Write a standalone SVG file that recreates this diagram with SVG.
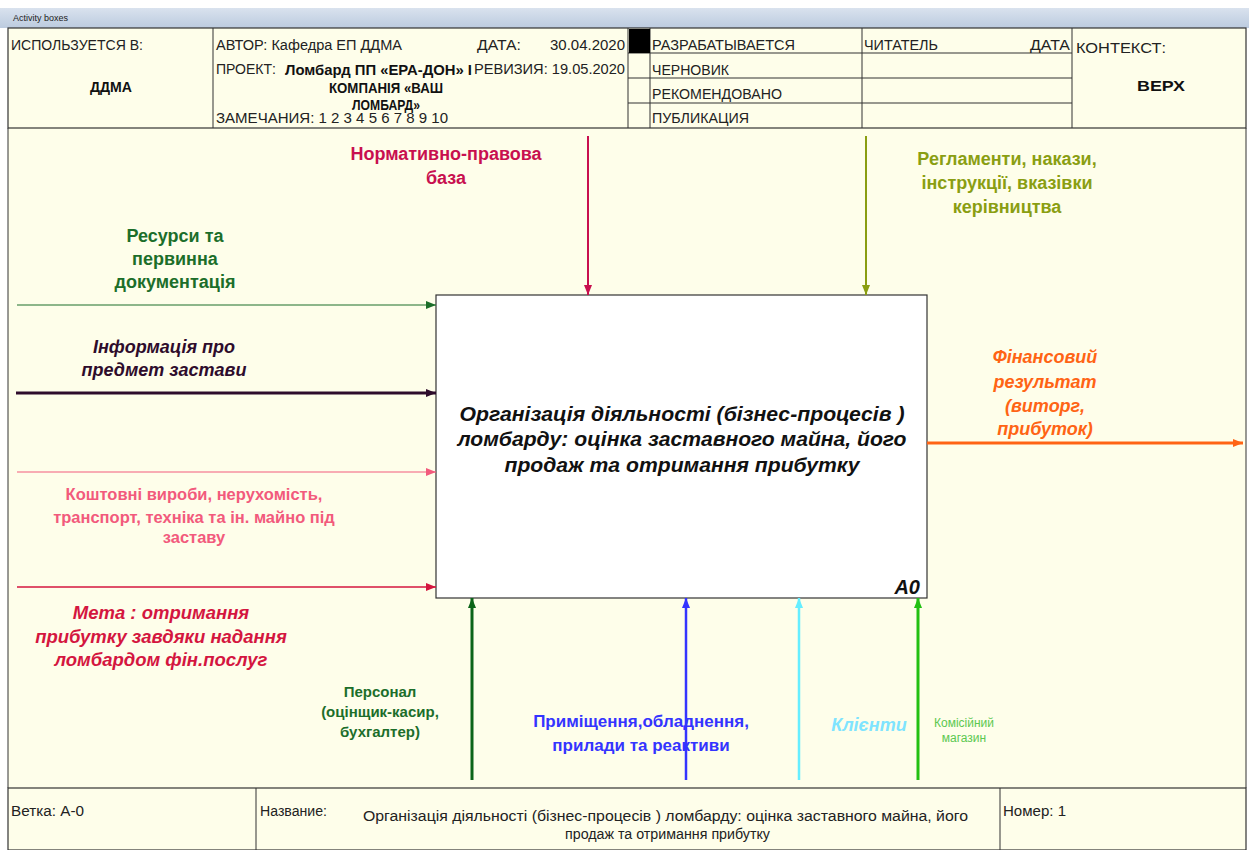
<svg xmlns="http://www.w3.org/2000/svg" width="1249" height="850" viewBox="0 0 1249 850">
<defs>
<linearGradient id="bar" x1="0" y1="0" x2="0" y2="1"><stop offset="0" stop-color="#d9e2ee"/><stop offset="1" stop-color="#bccbdf"/></linearGradient>
<marker id="mGreen" markerUnits="userSpaceOnUse" markerWidth="10" markerHeight="8" refX="10" refY="4" orient="auto"><path d="M0,0 L10,4 L0,8 Z" fill="#1c6e2a"/></marker>
<marker id="mPurple" markerUnits="userSpaceOnUse" markerWidth="10" markerHeight="8" refX="10" refY="4" orient="auto"><path d="M0,0 L10,4 L0,8 Z" fill="#2e0c2c"/></marker>
<marker id="mPink" markerUnits="userSpaceOnUse" markerWidth="10" markerHeight="8" refX="10" refY="4" orient="auto"><path d="M0,0 L10,4 L0,8 Z" fill="#f25a7c"/></marker>
<marker id="mCrimson" markerUnits="userSpaceOnUse" markerWidth="10" markerHeight="8" refX="10" refY="4" orient="auto"><path d="M0,0 L10,4 L0,8 Z" fill="#d4163f"/></marker>
<marker id="mMagenta" markerUnits="userSpaceOnUse" markerWidth="10" markerHeight="8" refX="10" refY="4" orient="auto"><path d="M0,0 L10,4 L0,8 Z" fill="#c8104f"/></marker>
<marker id="mOlive" markerUnits="userSpaceOnUse" markerWidth="10" markerHeight="8" refX="10" refY="4" orient="auto"><path d="M0,0 L10,4 L0,8 Z" fill="#8a9e12"/></marker>
<marker id="mOrange" markerUnits="userSpaceOnUse" markerWidth="10" markerHeight="8" refX="10" refY="4" orient="auto"><path d="M0,0 L10,4 L0,8 Z" fill="#ff6414"/></marker>
<marker id="mDkGreen" markerUnits="userSpaceOnUse" markerWidth="10" markerHeight="8" refX="10" refY="4" orient="auto"><path d="M0,0 L10,4 L0,8 Z" fill="#0b6418"/></marker>
<marker id="mBlue" markerUnits="userSpaceOnUse" markerWidth="10" markerHeight="8" refX="10" refY="4" orient="auto"><path d="M0,0 L10,4 L0,8 Z" fill="#3434ff"/></marker>
<marker id="mCyan" markerUnits="userSpaceOnUse" markerWidth="10" markerHeight="8" refX="10" refY="4" orient="auto"><path d="M0,0 L10,4 L0,8 Z" fill="#66eeff"/></marker>
<marker id="mLime" markerUnits="userSpaceOnUse" markerWidth="10" markerHeight="8" refX="10" refY="4" orient="auto"><path d="M0,0 L10,4 L0,8 Z" fill="#22c012"/></marker>
</defs>
<style>
.hdr{font-family:"Liberation Sans",Arial,sans-serif;font-size:14px;fill:#222}
.hb{font-family:"Liberation Sans",Arial,sans-serif;font-size:14px;font-weight:bold;fill:#111}
.lbl{font-family:"Liberation Sans",Arial,sans-serif;font-weight:bold;text-anchor:middle}
.it{font-style:italic}
.frame{fill:none;stroke:#333;stroke-width:1.2}
.grid{stroke:#333;stroke-width:1}
</style>
<rect x="0" y="0" width="1249" height="850" fill="#ffffff"/>
<rect x="0" y="8" width="1249" height="20" fill="url(#bar)"/>
<text x="13" y="21" font-family="Liberation Sans, Arial, sans-serif" font-size="9" fill="#222">Activity boxes</text>
<rect x="8" y="28" width="1238" height="822" fill="#fefeea"/>

<g id="header">
<rect class="frame" x="8" y="28" width="1238" height="100"/>
<line class="grid" x1="213" y1="28" x2="213" y2="128"/>
<line class="grid" x1="628" y1="28" x2="628" y2="128"/>
<line class="grid" x1="650" y1="28" x2="650" y2="128"/>
<line class="grid" x1="862" y1="28" x2="862" y2="128"/>
<line class="grid" x1="1072" y1="28" x2="1072" y2="128"/>
<line class="grid" x1="628" y1="53" x2="1072" y2="53"/>
<line class="grid" x1="628" y1="78" x2="1072" y2="78"/>
<line class="grid" x1="628" y1="103" x2="1072" y2="103"/>
<rect x="629" y="29" width="21" height="24" fill="#000"/>
<text class="hdr" x="11" y="50" textLength="132" lengthAdjust="spacingAndGlyphs">ИСПОЛЬЗУЕТСЯ В:</text>
<text class="hb" x="90" y="92" font-size="15" textLength="42" lengthAdjust="spacingAndGlyphs">ДДМА</text>
<text class="hdr" x="216" y="50" textLength="186" lengthAdjust="spacingAndGlyphs">АВТОР: Кафедра ЕП ДДМА</text>
<text class="hdr" x="477" y="50" textLength="44" lengthAdjust="spacingAndGlyphs">ДАТА:</text>
<text class="hdr" x="550" y="50" textLength="75" lengthAdjust="spacingAndGlyphs">30.04.2020</text>
<text class="hdr" x="216" y="74" textLength="60" lengthAdjust="spacingAndGlyphs">ПРОЕКТ:</text>
<text class="hb" x="285" y="75" textLength="187" lengthAdjust="spacingAndGlyphs">Ломбард ПП «ЕРА-ДОН» I</text>
<text class="hdr" x="474" y="74" textLength="151" lengthAdjust="spacingAndGlyphs">РЕВИЗИЯ: 19.05.2020</text>
<text class="hb" x="329" y="93" textLength="114" lengthAdjust="spacingAndGlyphs">КОМПАНІЯ «ВАШ</text>
<text class="hb" x="352" y="110" textLength="68" lengthAdjust="spacingAndGlyphs">ЛОМБАРД»</text>
<text class="hdr" x="216" y="123" textLength="232" lengthAdjust="spacingAndGlyphs">ЗАМЕЧАНИЯ: 1 2 3 4 5 6 7 8 9 10</text>
<text class="hdr" x="652" y="50" textLength="143" lengthAdjust="spacingAndGlyphs">РАЗРАБАТЫВАЕТСЯ</text>
<text class="hdr" x="652" y="75" textLength="77" lengthAdjust="spacingAndGlyphs">ЧЕРНОВИК</text>
<text class="hdr" x="652" y="99" textLength="130" lengthAdjust="spacingAndGlyphs">РЕКОМЕНДОВАНО</text>
<text class="hdr" x="652" y="123" textLength="97" lengthAdjust="spacingAndGlyphs">ПУБЛИКАЦИЯ</text>
<text class="hdr" x="864" y="50" textLength="74" lengthAdjust="spacingAndGlyphs">ЧИТАТЕЛЬ</text>
<text class="hdr" x="1030" y="50" textLength="40" lengthAdjust="spacingAndGlyphs">ДАТА</text>
<text class="hdr" x="1076" y="53" font-size="15" textLength="90" lengthAdjust="spacingAndGlyphs" fill="#111">КОНТЕКСТ:</text>
<text class="hb" x="1137" y="91" font-size="18" textLength="48" lengthAdjust="spacingAndGlyphs">ВЕРХ</text>
</g>

<g id="main-frame">
<line class="grid" x1="8" y1="128" x2="8" y2="788"/>
<line class="grid" x1="1246" y1="128" x2="1246" y2="788"/>
</g>

<g id="A0">
<rect x="436" y="295" width="491" height="303" fill="#ffffff" stroke="#333" stroke-width="1.2"/>
<text class="lbl it" font-size="20" x="682" y="421" fill="#111" textLength="445" lengthAdjust="spacingAndGlyphs">Організація діяльності (бізнес-процесів )</text>
<text class="lbl it" font-size="20" x="682" y="446" fill="#111" textLength="449" lengthAdjust="spacingAndGlyphs">ломбарду: оцінка заставного майна, його</text>
<text class="lbl it" font-size="20" x="682" y="472" fill="#111" textLength="355" lengthAdjust="spacingAndGlyphs">продаж та отримання прибутку</text>
<text class="lbl it" font-size="20" x="920" y="594" style="text-anchor:end" fill="#111">A0</text>
</g>

<g id="connectors" fill="none">
<line x1="17" y1="305" x2="436" y2="305" stroke="#1c6e2a" stroke-width="1.2" marker-end="url(#mGreen)"/>
<line x1="16" y1="393" x2="436" y2="393" stroke="#2e0c2c" stroke-width="3" marker-end="url(#mPurple)"/>
<line x1="17" y1="472" x2="436" y2="472" stroke="#f25a7c" stroke-width="1.2" marker-end="url(#mPink)"/>
<line x1="17" y1="587" x2="436" y2="587" stroke="#d4163f" stroke-width="1.5" marker-end="url(#mCrimson)"/>
<line x1="588" y1="136" x2="588" y2="295" stroke="#c8104f" stroke-width="2" marker-end="url(#mMagenta)"/>
<line x1="866" y1="136" x2="866" y2="295" stroke="#8a9e12" stroke-width="2" marker-end="url(#mOlive)"/>
<line x1="927" y1="443" x2="1243" y2="443" stroke="#ff6414" stroke-width="3" marker-end="url(#mOrange)"/>
<line x1="472" y1="780" x2="472" y2="598" stroke="#0b6418" stroke-width="3" marker-end="url(#mDkGreen)"/>
<line x1="686" y1="780" x2="686" y2="598" stroke="#3434ff" stroke-width="2.5" marker-end="url(#mBlue)"/>
<line x1="799" y1="780" x2="799" y2="598" stroke="#66eeff" stroke-width="2.5" marker-end="url(#mCyan)"/>
<line x1="918" y1="780" x2="918" y2="598" stroke="#22c012" stroke-width="3" marker-end="url(#mLime)"/>
</g>

<g id="labels">
<g fill="#c8104f" font-size="18"><text class="lbl" x="446" y="160">Нормативно-правова</text><text class="lbl" x="446" y="184">база</text></g>
<g fill="#8a9e12" font-size="18"><text class="lbl" x="1007" y="165">Регламенти, накази,</text><text class="lbl" x="1007" y="189">інструкції, вказівки</text><text class="lbl" x="1007" y="213">керівництва</text></g>
<g fill="#1c6e2a" font-size="18"><text class="lbl" x="175" y="242">Ресурси та</text><text class="lbl" x="175" y="265">первинна</text><text class="lbl" x="175" y="288">документація</text></g>
<g fill="#2e0c2c" font-size="18"><text class="lbl it" x="164" y="353">Інформація про</text><text class="lbl it" x="164" y="376">предмет застави</text></g>
<g fill="#ff6414" font-size="18"><text class="lbl it" x="1045" y="363">Фінансовий</text><text class="lbl it" x="1045" y="388">результат</text><text class="lbl it" x="1045" y="412">(виторг,</text><text class="lbl it" x="1045" y="435">прибуток)</text></g>
<g fill="#f25a7c" font-size="16.5"><text class="lbl" x="194" y="500">Коштовні вироби, нерухомість,</text><text class="lbl" x="194" y="523">транспорт, техніка та ін. майно під</text><text class="lbl" x="194" y="543">заставу</text></g>
<g fill="#d4163f" font-size="18.5"><text class="lbl it" x="161" y="619">Мета : отримання</text><text class="lbl it" x="161" y="643">прибутку завдяки надання</text><text class="lbl it" x="161" y="666">ломбардом фін.послуг</text></g>
<g fill="#1c6e2a" font-size="15"><text class="lbl" x="380" y="697">Персонал</text><text class="lbl" x="380" y="717">(оцінщик-касир,</text><text class="lbl" x="380" y="737">бухгалтер)</text></g>
<g fill="#3434ff" font-size="17"><text class="lbl" x="641" y="727">Приміщення,обладнення,</text><text class="lbl" x="641" y="751">прилади та реактиви</text></g>
<text class="lbl it" x="869" y="731" font-size="18" fill="#7fe4ff">Клієнти</text>
<g fill="#5cc850" font-size="12"><text class="lbl" x="964" y="727" style="font-weight:normal">Комісійний</text><text class="lbl" x="964" y="742" style="font-weight:normal">магазин</text></g>
</g>

<g id="footer">
<rect class="frame" x="8" y="788" width="1238" height="62"/>
<line class="grid" x1="256" y1="788" x2="256" y2="850"/>
<line class="grid" x1="1000" y1="788" x2="1000" y2="850"/>
<text class="hdr" x="11" y="816" textLength="73" lengthAdjust="spacingAndGlyphs">Ветка: А-0</text>
<text class="hdr" x="260" y="816" textLength="67" lengthAdjust="spacingAndGlyphs">Название:</text>
<text class="hdr" x="363" y="821" fill="#111" textLength="605" lengthAdjust="spacingAndGlyphs">Організація діяльності (бізнес-процесів ) ломбарду: оцінка заставного майна, його</text>
<text class="hdr" x="565" y="839" fill="#111" textLength="205" lengthAdjust="spacingAndGlyphs">продаж та отримання прибутку</text>
<text class="hdr" x="1003" y="816" textLength="63" lengthAdjust="spacingAndGlyphs">Номер: 1</text>
</g>
</svg>
